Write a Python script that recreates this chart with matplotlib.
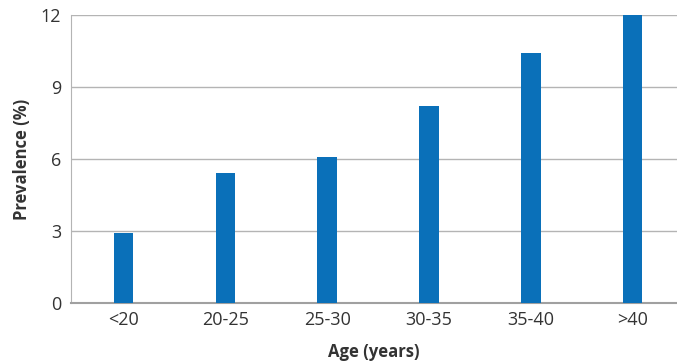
import matplotlib
matplotlib.use("Agg")
import matplotlib.pyplot as plt

# Prevalence by maternal age band
age_groups = ["<20", "20-25", "25-30", "30-35", "35-40", ">40"]
prevalence = [2.9, 5.4, 6.1, 8.2, 10.4, 12.0]
y_ticks = [0, 3, 6, 9, 12]

BAR_COLOR = "#0a70b9"
GRID_COLOR = "#b4b4b4"
TEXT_COLOR = "#333333"

plt.rcParams["font.family"] = ["Open Sans", "DejaVu Sans"]

fig = plt.figure(figsize=(6.77, 3.64), dpi=100)
ax = fig.add_axes([71 / 677, 1 - 303 / 364, 1 - 71 / 677, (303 - 15) / 364])

x = range(len(age_groups))
ax.bar(x, prevalence, width=0.19, color=BAR_COLOR, zorder=3)

ax.set_ylim(0, 12)
ax.set_xlim(-0.515, 5.435)
ax.set_yticks(y_ticks)
ax.set_xticks(list(x))
ax.set_xticklabels(age_groups)
ax.yaxis.grid(True, color=GRID_COLOR, linewidth=1.0, zorder=0)
ax.set_axisbelow(True)

for side in ("top", "right"):
    ax.spines[side].set_visible(False)
ax.spines["left"].set_color(GRID_COLOR)
ax.spines["bottom"].set_color("#a0a0a0")
ax.spines["bottom"].set_linewidth(1.5)

ax.tick_params(axis="both", length=0, labelsize=13, colors=TEXT_COLOR)
ax.tick_params(axis="y", pad=7)
ax.tick_params(axis="x", pad=6)

ax.set_xlabel("Age (years)", fontsize=12, fontweight="bold",
              color=TEXT_COLOR, labelpad=10)
ax.set_ylabel("Prevalence (%)", fontsize=12, fontweight="bold",
              color=TEXT_COLOR, labelpad=7)

fig.savefig("out.png", dpi=100)
